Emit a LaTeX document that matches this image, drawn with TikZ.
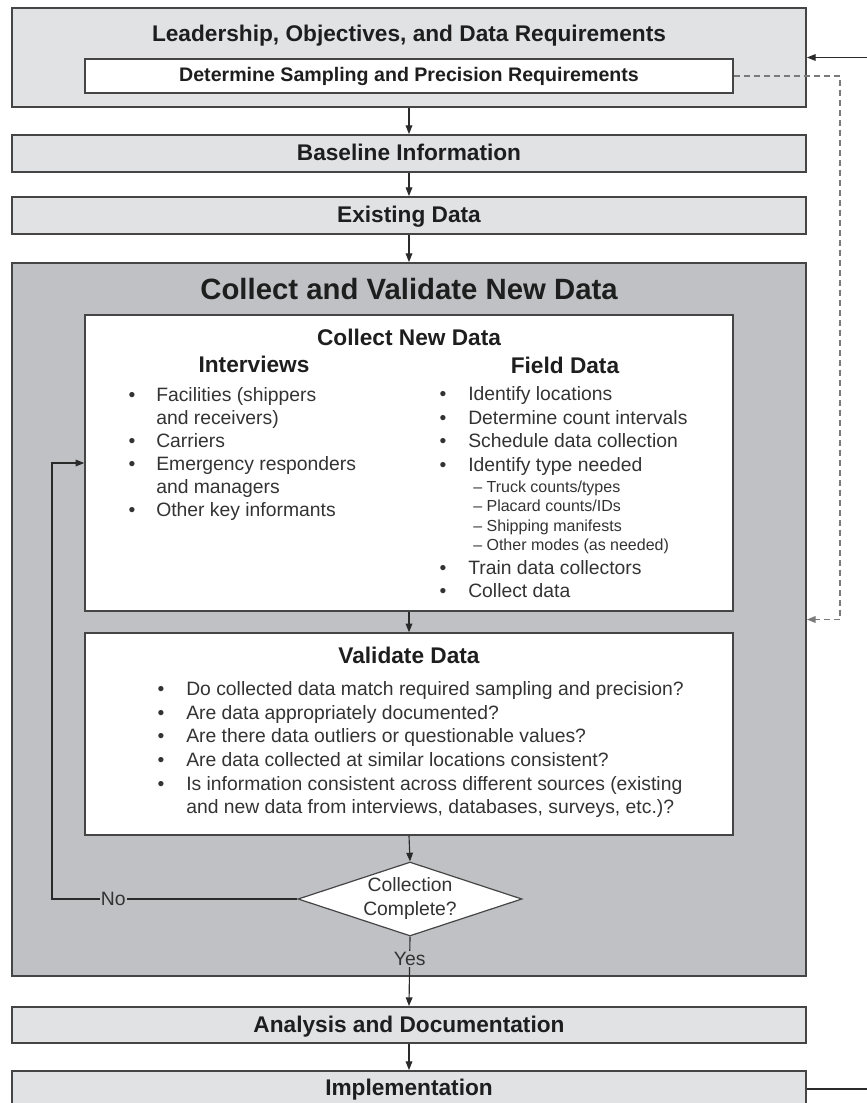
\documentclass[tikz,border=0pt]{standalone}
\usepackage{fontspec}
\setmainfont{Liberation Sans}
\usetikzlibrary{arrows.meta,shapes.geometric}
\definecolor{lightfill}{HTML}{E1E2E4}
\definecolor{bigfill}{HTML}{BFC1C5}
\definecolor{edgecol}{HTML}{454545}
\definecolor{linecol}{HTML}{2A2A2A}
\definecolor{dashcol}{HTML}{7A7A7A}
\definecolor{txtdark}{HTML}{1E1E1E}
\definecolor{txtreg}{HTML}{333333}
\begin{document}
\begin{tikzpicture}[x=0.75pt,y=-0.75pt,
  stagebox/.style={draw=edgecol,line width=1.4pt,fill=lightfill,minimum width=595.5pt,inner sep=0pt},
  whitebox/.style={draw=edgecol,line width=1.1pt,fill=white,minimum width=486pt,inner sep=0pt},
  boldtxt/.style={font=\bfseries\fontsize{17pt}{20pt}\selectfont,text=txtdark,anchor=base,inner sep=0pt},
  bigtitle/.style={font=\bfseries\fontsize{22pt}{26pt}\selectfont,text=txtdark,anchor=base,inner sep=0pt},
  bodytxt/.style={font=\fontsize{14.5pt}{17.5pt}\selectfont,text=txtreg,anchor=base west,inner sep=0pt},
  bul/.style={font=\fontsize{14.5pt}{17.5pt}\selectfont,text=txtreg,anchor=base,inner sep=0pt},
  subtxt/.style={font=\fontsize{12pt}{14pt}\selectfont,text=txtreg,anchor=base west,inner sep=0pt},
  conn/.style={draw=linecol,line width=0.85pt,-{Triangle[length=6.5pt,width=5pt]}},
  plainline/.style={draw=linecol,line width=0.85pt},
  dashconn/.style={draw=dashcol,line width=1pt,dash pattern=on 4.5pt off 3pt,-{Triangle[length=6.5pt,width=5pt]}},
  lbl/.style={font=\fontsize{14.5pt}{17.5pt}\selectfont,text=txtreg,fill=bigfill,inner sep=1pt}]
\useasboundingbox (0,0) rectangle (867,1103);
\clip (0,0) rectangle (867,1103);

% top stage
\node[stagebox,minimum height=74.25pt] (lead) at (409,57.5) {};
\node[boldtxt] (leadt) at (409,41.5) {Leadership, Objectives, and Data Requirements};
\node[whitebox,minimum height=25.5pt,font=\bfseries\fontsize{14.7pt}{17pt}\selectfont,text=txtdark] (det) at (409,76) {Determine Sampling and Precision Requirements};

\node[stagebox,minimum height=27.75pt] (base) at (409,153.5) {};
\node[boldtxt] (baset) at (409,160) {Baseline Information};
\node[stagebox,minimum height=27.75pt] (exist) at (409,215.5) {};
\node[boldtxt] (existt) at (409,222) {Existing Data};

% big box
\node[draw=edgecol,line width=1.4pt,fill=bigfill,minimum width=595.5pt,minimum height=534.75pt,inner sep=0pt] (big) at (409,619.5) {};
\node[bigtitle] (bigt) at (409,299) {Collect and Validate New Data};

\node[whitebox,minimum height=222pt] (coll) at (409,463) {};
\node[boldtxt] (collt) at (409,345) {Collect New Data};
\node[boldtxt] (ivt) at (254,372.5) {Interviews};
\node[boldtxt] (fdt) at (565,373) {Field Data};

% interviews list
\node[bul] (ivb1) at (132,401) {•};
\node[bodytxt] (iv1) at (156,401) {Facilities (shippers};
\node[bodytxt] (iv1b) at (156,424) {and receivers)};
\node[bul] (ivb2) at (132,447) {•};
\node[bodytxt] (iv2) at (156,447) {Carriers};
\node[bul] (ivb3) at (132,470) {•};
\node[bodytxt] (iv3) at (156,470) {Emergency responders};
\node[bodytxt] (iv3b) at (156,493) {and managers};
\node[bul] (ivb4) at (132,516) {•};
\node[bodytxt] (iv4) at (156,516) {Other key informants};

% field data list
\node[bul] (fdb1) at (443,400) {•};
\node[bodytxt] (fd1) at (468,400) {Identify locations};
\node[bul] (fdb2) at (443,424) {•};
\node[bodytxt] (fd2) at (468,424) {Determine count intervals};
\node[bul] (fdb3) at (443,447) {•};
\node[bodytxt] (fd3) at (468,447) {Schedule data collection};
\node[bul] (fdb4) at (443,471) {•};
\node[bodytxt] (fd4) at (468,471) {Identify type needed};
\node[subtxt] (fds1) at (473,492) {– Truck counts/types};
\node[subtxt] (fds2) at (473,511.5) {– Placard counts/IDs};
\node[subtxt] (fds3) at (473,531) {– Shipping manifests};
\node[subtxt] (fds4) at (473,550) {– Other modes (as needed)};
\node[bul] (fdb5) at (443,574) {•};
\node[bodytxt] (fd5) at (468,574) {Train data collectors};
\node[bul] (fdb6) at (443,597) {•};
\node[bodytxt] (fd6) at (468,597) {Collect data};

% validate box
\node[whitebox,minimum height=151.5pt] (val) at (409,734) {};
\node[boldtxt] (valt) at (409,663) {Validate Data};
\node[bul] (vb1) at (161,695) {•};
\node[bodytxt] (v1) at (186,695) {Do collected data match required sampling and precision?};
\node[bul] (vb2) at (161,719) {•};
\node[bodytxt] (v2) at (186,719) {Are data appropriately documented?};
\node[bul] (vb3) at (161,742) {•};
\node[bodytxt] (v3) at (186,742) {Are there data outliers or questionable values?};
\node[bul] (vb4) at (161,766) {•};
\node[bodytxt] (v4) at (186,766) {Are data collected at similar locations consistent?};
\node[bul] (vb5) at (161,790) {•};
\node[bodytxt] (v5) at (186,790) {Is information consistent across different sources (existing};
\node[bodytxt] (v5b) at (186,813) {and new data from interviews, databases, surveys, etc.)?};

% decision
\node[diamond,draw=edgecol,line width=0.9pt,fill=white,minimum width=168pt,minimum height=55.5pt,inner sep=0pt] (dia) at (410,899) {};
\node[font=\fontsize{14.5pt}{18pt}\selectfont,text=txtreg,align=center,inner sep=0pt] (dtext) at (410,898) {Collection\\Complete?};

% bottom stages
\node[stagebox,minimum height=27pt] (ana) at (409,1025) {};
\node[boldtxt] (anat) at (409,1032) {Analysis and Documentation};
\node[stagebox,minimum height=27pt] (impl) at (409,1089) {};
\node[boldtxt] (implt) at (409,1095) {Implementation};

% connectors
\draw[conn] (lead.south) -- (base.north);
\draw[conn] (base.south) -- (exist.north);
\draw[conn] (exist.south) -- (big.north);
\draw[conn] (coll.south) -- (val.north);
\draw[conn] (val.south) -- (dia.north);
\draw[conn] (dia.south) -- node[lbl,pos=0.32] (yes) {Yes} (ana.north);
\draw[conn] (ana.south) -- (impl.north);

\coordinate (nocorner) at (52,899);
\draw[conn] (dia.west) -- node[lbl,pos=0.75] (no) {No} (nocorner) |- (coll.west);

\coordinate (dashx) at (840,0);
\draw[dashconn] (det.east) -| (dashx |- big.east) -- (big.east);

\coordinate (fbtop) at (870,57.5);
\coordinate (fbbot) at (870,1089);
\draw[conn] (fbtop) -- (lead.east);
\draw[plainline] (impl.east) -- (fbbot);
\end{tikzpicture}
\end{document}
